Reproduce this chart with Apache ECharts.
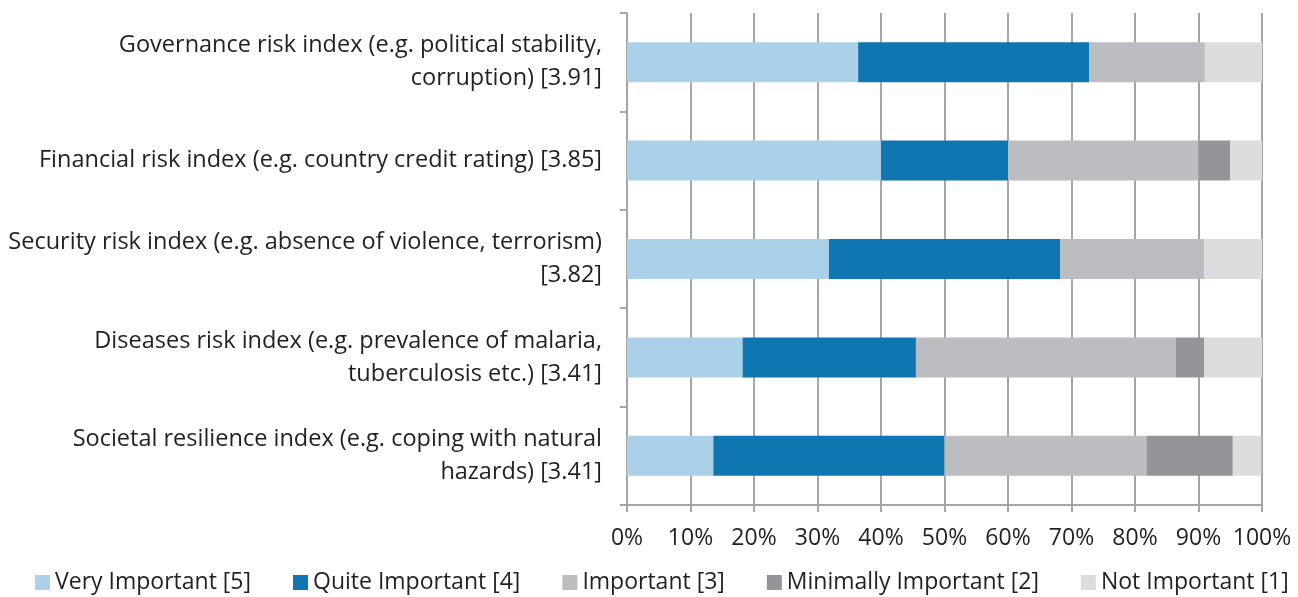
<!DOCTYPE html>
<html>
<head>
<meta charset="utf-8">
<script src="https://cdn.jsdelivr.net/npm/echarts@6/dist/echarts.min.js"></script>
<style>
  html, body { margin: 0; padding: 0; background: #fff; }
  #chart { width: 1298px; height: 597px; }
</style>
</head>
<body>
<div id="chart"></div>
<script>
// Risk indices, with mean importance score in brackets
const categories = [
  'Governance risk index (e.g. political stability,\ncorruption) [3.91]',
  'Financial risk index (e.g. country credit rating) [3.85]',
  'Security risk index (e.g. absence of violence, terrorism)\n[3.82]',
  'Diseases risk index (e.g. prevalence of malaria,\ntuberculosis etc.) [3.41]',
  'Societal resilience index (e.g. coping with natural\nhazards) [3.41]'
];

// Share of respondents per rating, in percent
const veryImportant      = [36.4, 40.0, 31.8, 18.2, 13.6];
const quiteImportant     = [36.4, 20.0, 36.4, 27.3, 36.4];
const important          = [18.2, 30.0, 22.7, 40.9, 31.8];
const minimallyImportant = [0.0, 5.0, 0.0, 4.5, 13.6];
const notImportant       = [9.1, 5.0, 9.1, 9.1, 4.5];

const seriesNames = [
  'Very Important [5]', 'Quite Important [4]', 'Important [3]',
  'Minimally Important [2]', 'Not Important [1]'
];
const seriesData = [veryImportant, quiteImportant, important, minimallyImportant, notImportant];
const colors = ['#abd1e8', '#0f76b1', '#bcbdc0', '#939598', '#dcdddf'];

const FONT = 'Open Sans';
const TEXT = '#231f20';
const GRID = '#a6a6a6';

const chart = echarts.init(document.getElementById('chart'), null, { renderer: 'canvas' });
chart.setOption({
  animation: false,
  color: colors,
  textStyle: { fontFamily: FONT },
  grid: { left: 627, right: 36, top: 13, bottom: 92, containLabel: false },
  xAxis: {
    type: 'value',
    min: 0, max: 100, interval: 10,
    axisLine: { show: true, lineStyle: { color: GRID, width: 2 } },
    axisTick: { show: true, length: 7, lineStyle: { color: GRID, width: 2 } },
    splitLine: { show: true, lineStyle: { color: GRID, width: 2 } },
    axisLabel: { formatter: '{value}%', color: TEXT, fontSize: 23, fontFamily: FONT, margin: 22 }
  },
  yAxis: {
    type: 'category',
    inverse: true,
    data: categories,
    axisLine: { show: true, lineStyle: { color: GRID, width: 2 } },
    axisTick: { show: true, length: 7, lineStyle: { color: GRID, width: 2 } },
    axisLabel: { color: TEXT, fontSize: 23.5, fontFamily: FONT, margin: 25, lineHeight: 33, align: 'right', padding: [4, 0, 0, 0] }
  },
  legend: {
    top: 566,
    left: 30,
    padding: 5,
    itemWidth: 15, itemHeight: 15, itemGap: 42,
    icon: 'rect',
    textStyle: { color: TEXT, fontSize: 23, fontFamily: FONT, padding: [0, 0, 0, 0] },
    data: seriesNames
  },
  series: seriesNames.map((name, i) => ({
    name,
    type: 'bar',
    stack: 'total',
    barWidth: 40,
    data: seriesData[i]
  }))
});
</script>
</body>
</html>
